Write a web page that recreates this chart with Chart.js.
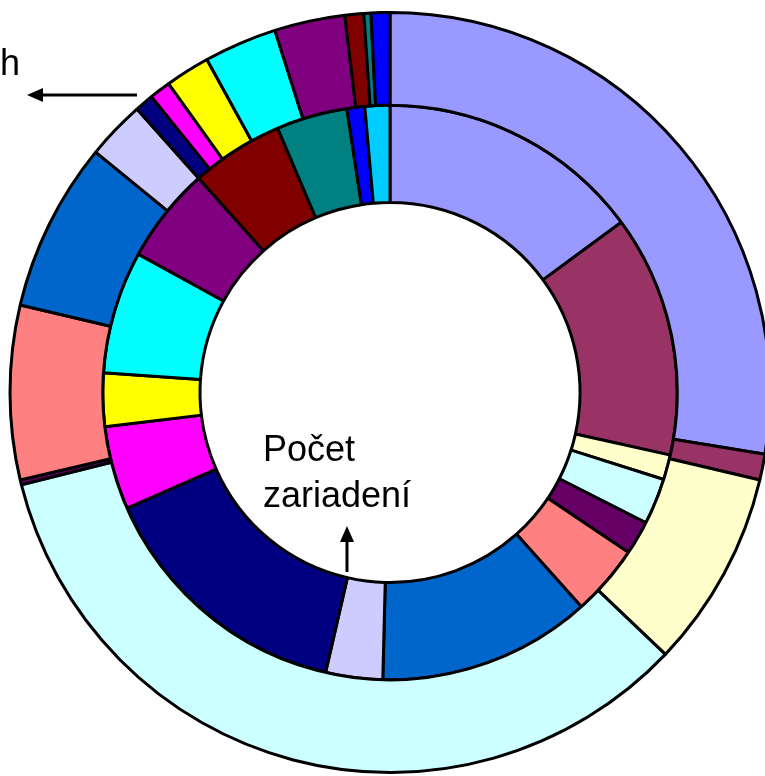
<!DOCTYPE html>
<html>
<head>
<meta charset="utf-8">
<script src="https://cdn.jsdelivr.net/npm/chart.js@4.4.1/dist/chart.umd.min.js"></script>
<style>
  html, body { margin: 0; padding: 0; background: #ffffff; overflow: hidden; width: 765px; height: 776px; }
  #wrap { position: absolute; left: 0; top: 0; width: 780px; height: 785px; }
  .lbl { position: absolute; font-family: "Liberation Sans", Arial, sans-serif; font-size: 36px; line-height: 36px; color: #000; white-space: nowrap; }
</style>
</head>
<body>
<div id="wrap"><canvas id="c" width="780" height="785"></canvas></div>
<div class="lbl" style="left:0px; top:45px;">h</div>
<div class="lbl" style="left:263px; top:431px;">Počet</div>
<div class="lbl" style="left:263px; top:477px;">zariadení</div>
<script>
// Categories (unlabelled in the reference)
const categories = ["1","2","3","4","5","6","7","8","9","10","11","12","13","14","15","16","17"];
// Inner ring: Počet zariadení (share, %)
const devices = [14.9, 13.6, 1.4, 2.6, 1.9, 4.0, 12.0, 3.2, 14.8, 4.7, 3.0, 6.9, 5.4, 5.2, 4.0, 1.0, 1.4];
// Outer ring: hours (share, %)
const hours = [27.6, 1.1, 8.4, 34.0, 0.2, 7.4, 7.2, 2.5, 0.8, 0.9, 1.9, 3.1, 3.0, 0.8, 0.3, 0.8, 0.0];
const colors = ["#9999FF","#993366","#FFFFCC","#CCFFFF","#660066","#FF8080","#0066CC","#CCCCFF",
                "#000080","#FF00FF","#FFFF00","#00FFFF","#800080","#800000","#008080","#0000FF","#00CCFF"];

const arrows = {
  id: 'arrows',
  afterDraw(chart) {
    const ctx = chart.ctx;
    ctx.save();
    ctx.strokeStyle = '#000';
    ctx.fillStyle = '#000';
    ctx.lineWidth = 3;
    // up arrow under "Počet zariadení"
    ctx.beginPath(); ctx.moveTo(347, 572); ctx.lineTo(347, 538); ctx.stroke();
    ctx.beginPath(); ctx.moveTo(347, 526); ctx.lineTo(340, 542); ctx.lineTo(354, 542); ctx.closePath(); ctx.fill();
    // left arrow near "h"
    ctx.beginPath(); ctx.moveTo(137, 95); ctx.lineTo(38, 95); ctx.stroke();
    ctx.beginPath(); ctx.moveTo(27, 95); ctx.lineTo(43, 88); ctx.lineTo(43, 102); ctx.closePath(); ctx.fill();
    ctx.restore();
  }
};

new Chart(document.getElementById('c'), {
  type: 'doughnut',
  data: {
    labels: categories,
    datasets: [
      { label: 'h', data: hours, backgroundColor: colors, borderColor: '#000', borderWidth: 3, weight: 93 },
      { label: 'Počet zariadení', data: devices, backgroundColor: colors, borderColor: '#000', borderWidth: 3, weight: 97.5 }
    ]
  },
  options: {
    responsive: false,
    animation: false,
    radius: 380,
    cutout: '50%',
    layout: { padding: 0 },
    plugins: { legend: { display: false }, tooltip: { enabled: false }, title: { display: false } }
  },
  plugins: [arrows]
});
</script>
</body>
</html>
